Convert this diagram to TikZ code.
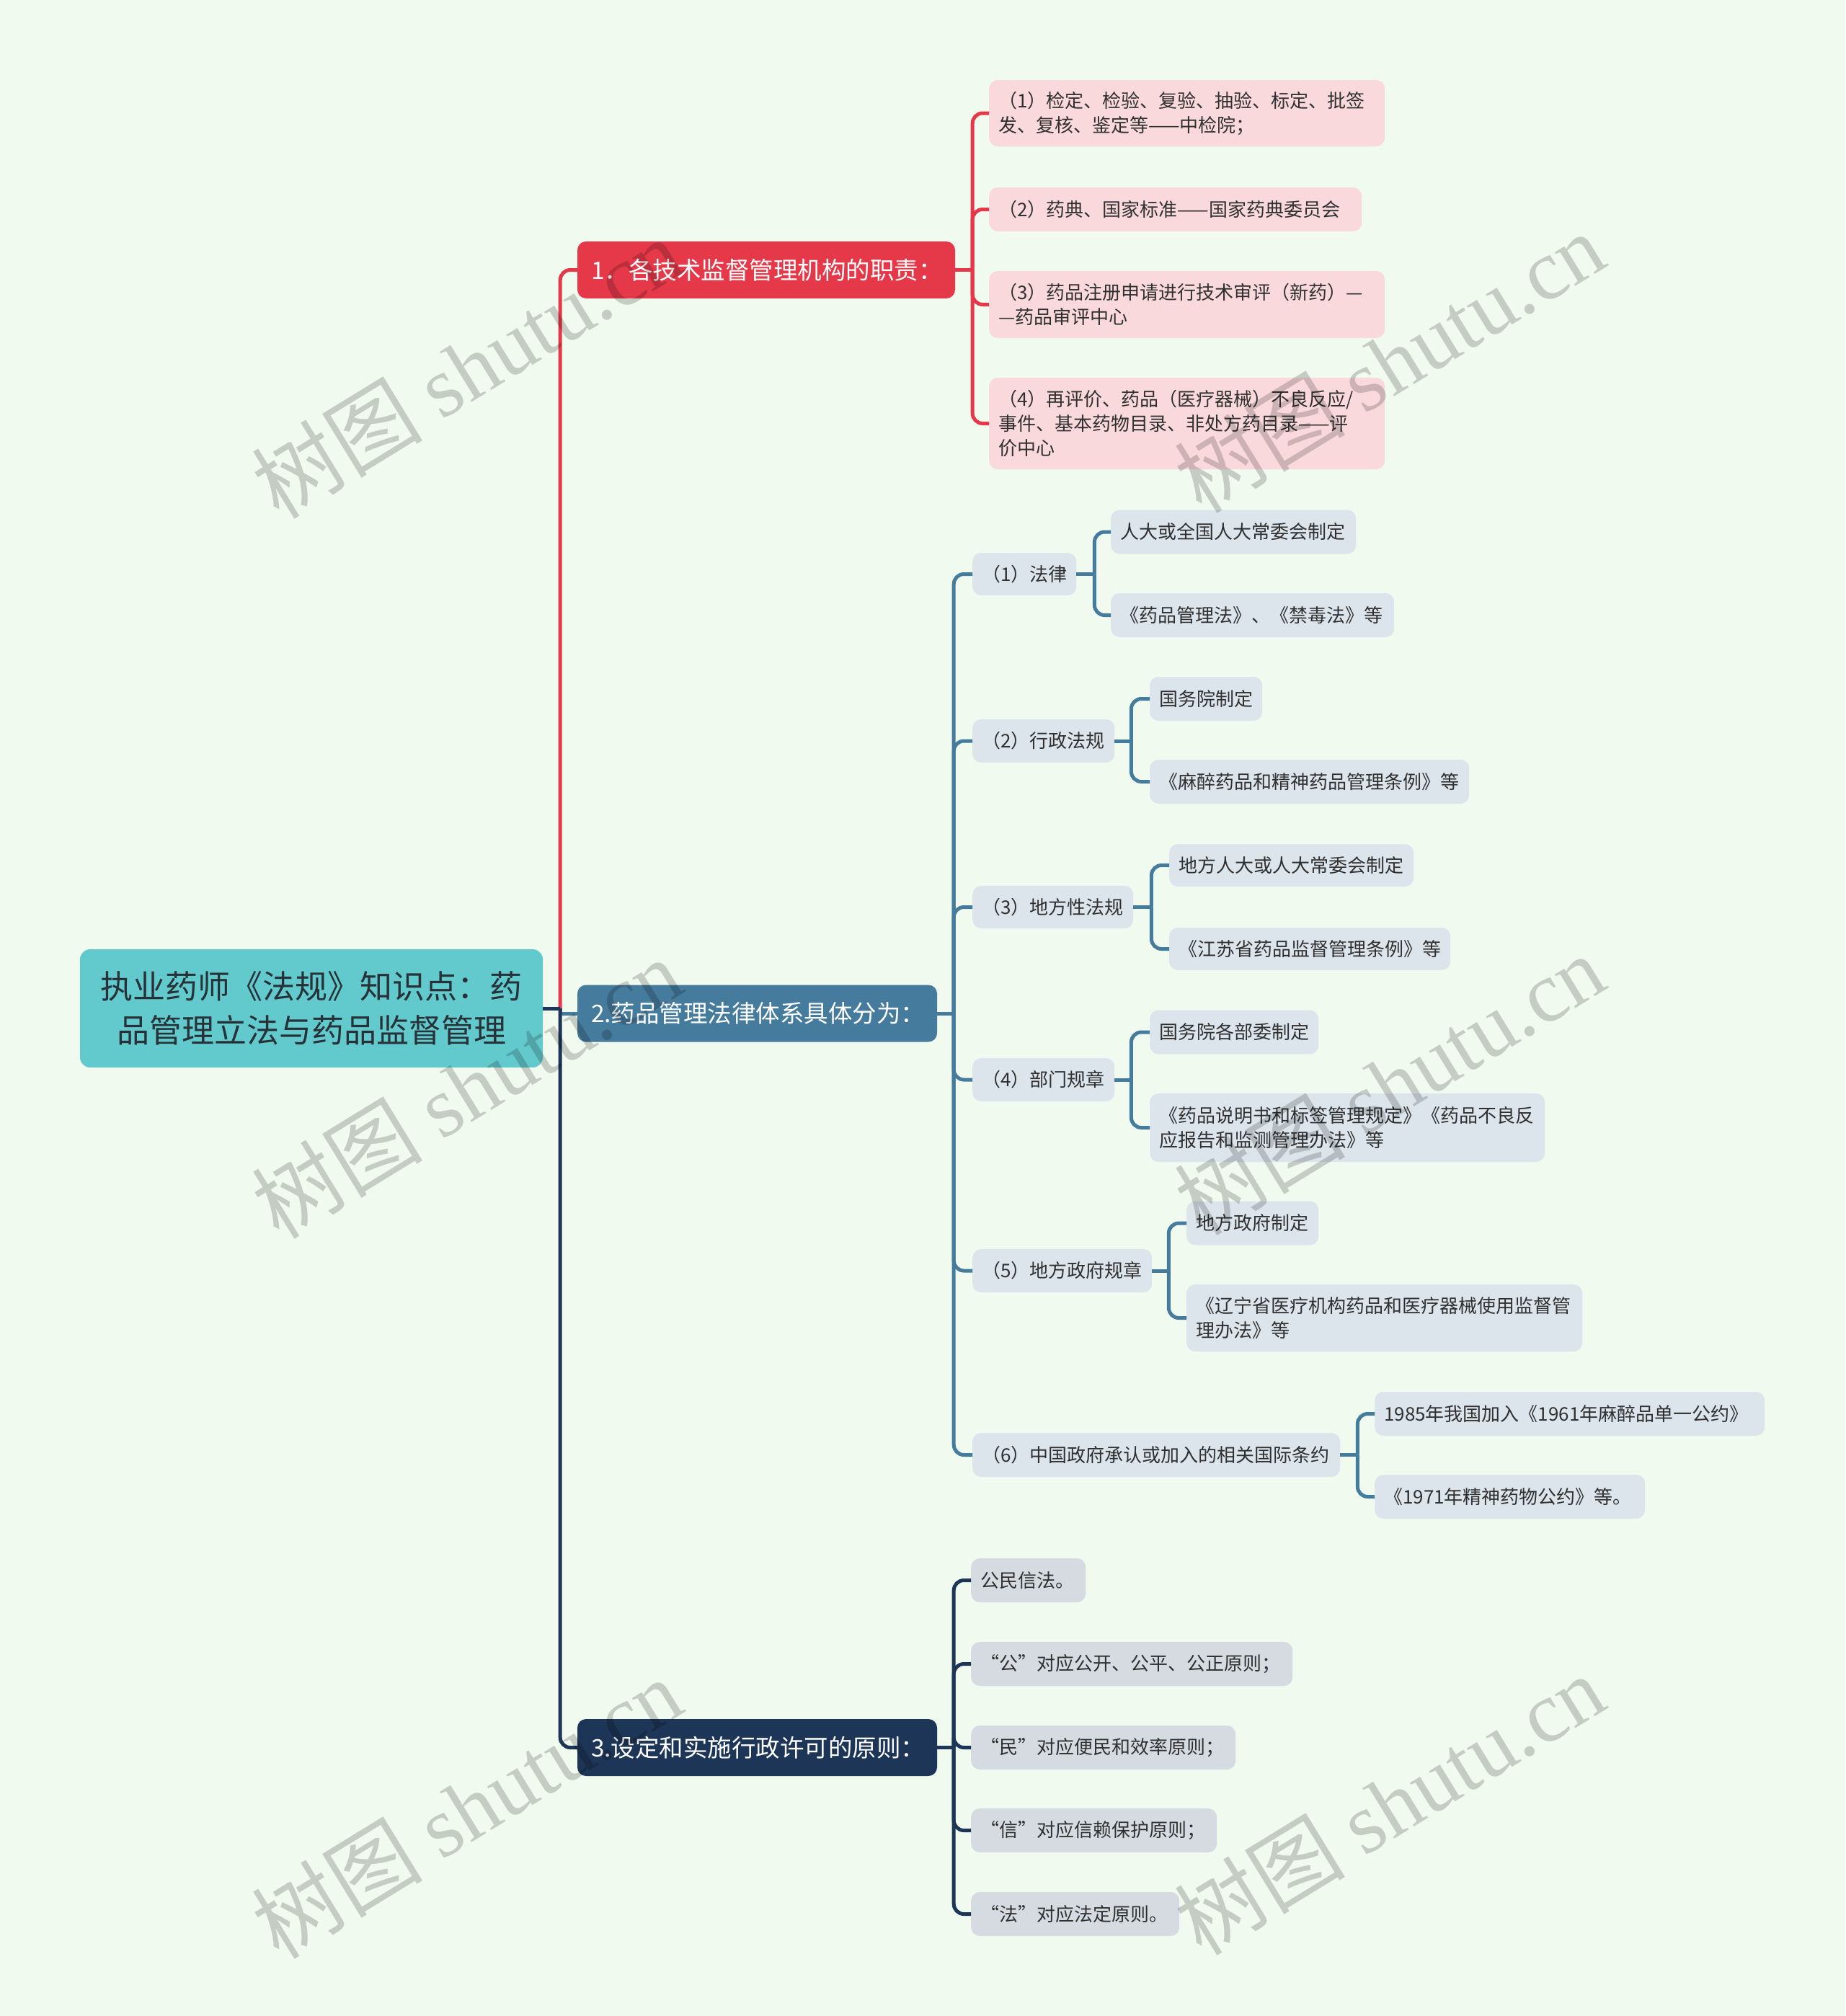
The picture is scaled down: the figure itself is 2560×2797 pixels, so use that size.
\documentclass[tikz,border=0pt]{standalone}
\usepackage{fontspec}
\setmainfont{Noto Sans CJK SC}
\newfontfamily\wmlatin{Liberation Serif}
\definecolor{bgCol}{HTML}{F1FAEE}
\definecolor{rootTeal}{HTML}{62C9CC}
\definecolor{rootTxt}{HTML}{263238}
\definecolor{brRed}{HTML}{E5394A}
\definecolor{brBlue}{HTML}{457B9D}
\definecolor{brNavy}{HTML}{1D3557}
\definecolor{fillPink}{HTML}{FAD9DD}
\definecolor{fillBlue}{HTML}{DCE5EC}
\definecolor{fillGrey}{HTML}{D5DBE1}
\definecolor{txtCol}{HTML}{303030}
\tikzset{
  leafbase/.style={rounded corners=12pt, inner xsep=13pt, inner ysep=0pt, align=left, anchor=west,
    font=\fontsize{26}{34}\selectfont, text=txtCol},
  pinkbox/.style={leafbase, fill=fillPink},
  bluebox/.style={leafbase, fill=fillBlue},
  greybox/.style={leafbase, fill=fillGrey},
  mainbox/.style={rounded corners=12pt, inner xsep=19pt, inner ysep=0pt, align=left, text=white,
    font=\fontsize{33.5}{40}\selectfont},
  rootbox/.style={rounded corners=14pt, inner sep=0pt, align=center, fill=rootTeal, text=rootTxt,
    font=\fontsize{45}{61}\selectfont},
  link/.style={line width=5pt, rounded corners=14pt},
  wm/.style={font=\fontsize{119}{119}\selectfont, text=black, text opacity=0.18, rotate=31.5, inner sep=0pt}
}
\begin{document}
\begin{tikzpicture}[x=1pt,y=-1pt]
\fill[bgCol] (0,0) rectangle (2560,2797);
\useasboundingbox (0,0) rectangle (2560,2797);

% root and main branches
\node[rootbox, minimum width=642pt, minimum height=164pt] (R) at (432,1399) {执业药师《法规》知识点：药\\品管理立法与药品监督管理};
\node[mainbox, fill=brRed, text width=486pt, minimum height=79pt] (B1) at (1063,374.5) {1．各技术监督管理机构的职责：};
\node[mainbox, fill=brBlue, text width=461pt, minimum height=79pt] (B2) at (1050.5,1406) {2.药品管理法律体系具体分为：};
\node[mainbox, fill=brNavy, text width=461pt, minimum height=79pt] (B3) at (1050.5,2424.5) {3.设定和实施行政许可的原则：};

% branch 1 children
\node[pinkbox, text width=523pt, minimum height=92pt] (c1) at (1372,157) {（1）检定、检验、复验、抽验、标定、批签\\发、复核、鉴定等——中检院；};
\node[pinkbox, text width=491pt, minimum height=61pt] (c2) at (1372,290.5) {（2）药典、国家标准——国家药典委员会};
\node[pinkbox, text width=523pt, minimum height=93pt] (c3) at (1372,422.5) {（3）药品注册申请进行技术审评（新药）—\\—药品审评中心};
\node[pinkbox, text width=523pt, minimum height=127pt] (c4) at (1372,587.5) {（4）再评价、药品（医疗器械）不良反应/\\事件、基本药物目录、非处方药目录——评\\价中心};

% branch 2 level 2
\node[bluebox, text width=118pt, minimum height=59pt] (L1) at (1349,796.5) {（1）法律};
\node[bluebox, text width=171pt, minimum height=60pt] (L2) at (1349,1028) {（2）行政法规};
\node[bluebox, text width=197pt, minimum height=59pt] (L3) at (1349,1258.5) {（3）地方性法规};
\node[bluebox, text width=171pt, minimum height=60pt] (L4) at (1349,1498) {（4）部门规章};
\node[bluebox, text width=223pt, minimum height=60pt] (L5) at (1349,1763) {（5）地方政府规章};
\node[bluebox, text width=484pt, minimum height=61pt] (L6) at (1349,2018.5) {（6）中国政府承认或加入的相关国际条约};

% branch 2 leaves
\node[bluebox, text width=314pt, minimum height=61pt] (l11) at (1541,738) {人大或全国人大常委会制定};
\node[bluebox, text width=367pt, minimum height=61pt] (l12) at (1541,853.5) {《药品管理法》、《禁毒法》等};
\node[bluebox, text width=130pt, minimum height=61pt] (l21) at (1595,969.5) {国务院制定};
\node[bluebox, text width=417pt, minimum height=61pt] (l22) at (1595,1084.5) {《麻醉药品和精神药品管理条例》等};
\node[bluebox, text width=313pt, minimum height=59pt] (l31) at (1622,1200.5) {地方人大或人大常委会制定};
\node[bluebox, text width=364pt, minimum height=59pt] (l32) at (1622,1316.5) {《江苏省药品监督管理条例》等};
\node[bluebox, text width=208pt, minimum height=61pt] (l41) at (1595,1432) {国务院各部委制定};
\node[bluebox, text width=522pt, minimum height=95pt] (l42) at (1595,1564.5) {《药品说明书和标签管理规定》《药品不良反\\应报告和监测管理办法》等};
\node[bluebox, text width=157pt, minimum height=61pt] (l51) at (1646,1697) {地方政府制定};
\node[bluebox, text width=523pt, minimum height=93pt] (l52) at (1646,1828.5) {《辽宁省医疗机构药品和医疗器械使用监督管\\理办法》等};
\node[bluebox, text width=515pt, minimum height=61pt] (l61) at (1907,1961.5) {1985年我国加入《1961年麻醉品单一公约》};
\node[bluebox, text width=349pt, minimum height=61pt] (l62) at (1907,2076.5) {《1971年精神药物公约》等。};

% branch 3 children
\node[greybox, text width=133pt, minimum height=61pt] (m1) at (1347,2192.5) {公民信法。};
\node[greybox, text width=420pt, minimum height=61pt] (m2) at (1347,2308.5) {“公”对应公开、公平、公正原则；};
\node[greybox, text width=341pt, minimum height=61pt] (m3) at (1347,2424.5) {“民”对应便民和效率原则；};
\node[greybox, text width=315pt, minimum height=61pt] (m4) at (1347,2539.5) {“信”对应信赖保护原则；};
\node[greybox, text width=263pt, minimum height=61pt] (m5) at (1347,2655.5) {“法”对应法定原则。};

% root connectors
\coordinate (rb) at ([xshift=24pt]R.east);
\draw[link, brRed] (rb) |- (B1.west);
\draw[line width=5pt, brBlue] (rb) -- (rb |- B2.west) -- (B2.west);
\draw[link, brNavy] (rb) |- (B3.west);
\draw[line width=5pt, brNavy] (R.east) -- (rb);

% branch 1 connectors
\coordinate (b1) at ([xshift=24pt]B1.east);
\draw[line width=5pt, brRed] (B1.east) -- (b1);
\foreach \c in {c1,c2,c3,c4} \draw[link, brRed] (b1) |- (\c.west);

% branch 2 connectors
\coordinate (b2) at ([xshift=23pt]B2.east);
\draw[line width=5pt, brBlue] (B2.east) -- (b2);
\foreach \c in {L1,L2,L3,L4,L5,L6} \draw[link, brBlue] (b2) |- (\c.west);

\coordinate (bL1) at ([xshift=25pt]L1.east);
\draw[line width=5pt, brBlue] (L1.east) -- (bL1);
\foreach \c in {l11,l12} \draw[link, brBlue] (bL1) |- (\c.west);
\coordinate (bL2) at ([xshift=23pt]L2.east);
\draw[line width=5pt, brBlue] (L2.east) -- (bL2);
\foreach \c in {l21,l22} \draw[link, brBlue] (bL2) |- (\c.west);
\coordinate (bL3) at ([xshift=25pt]L3.east);
\draw[line width=5pt, brBlue] (L3.east) -- (bL3);
\foreach \c in {l31,l32} \draw[link, brBlue] (bL3) |- (\c.west);
\coordinate (bL4) at ([xshift=23pt]L4.east);
\draw[line width=5pt, brBlue] (L4.east) -- (bL4);
\foreach \c in {l41,l42} \draw[link, brBlue] (bL4) |- (\c.west);
\coordinate (bL5) at ([xshift=23pt]L5.east);
\draw[line width=5pt, brBlue] (L5.east) -- (bL5);
\foreach \c in {l51,l52} \draw[link, brBlue] (bL5) |- (\c.west);
\coordinate (bL6) at ([xshift=24pt]L6.east);
\draw[line width=5pt, brBlue] (L6.east) -- (bL6);
\foreach \c in {l61,l62} \draw[link, brBlue] (bL6) |- (\c.west);

% branch 3 connectors
\coordinate (b3) at ([xshift=23pt]B3.east);
\draw[line width=5pt, brNavy] (B3.east) -- (b3);
\foreach \c in {m1,m2,m3,m4,m5} \draw[link, brNavy] (b3) |- (\c.west);

% watermarks
\node[wm] (w1) at (647,510) {树图 {\wmlatin shutu.cn}};
\node[wm] (w2) at (1927,502) {树图 {\wmlatin shutu.cn}};
\node[wm] (w3) at (647,1509) {树图 {\wmlatin shutu.cn}};
\node[wm] (w4) at (1927,1504) {树图 {\wmlatin shutu.cn}};
\node[wm] (w5) at (647,2508) {树图 {\wmlatin shutu.cn}};
\node[wm] (w6) at (1927,2503) {树图 {\wmlatin shutu.cn}};
\end{tikzpicture}
\end{document}
